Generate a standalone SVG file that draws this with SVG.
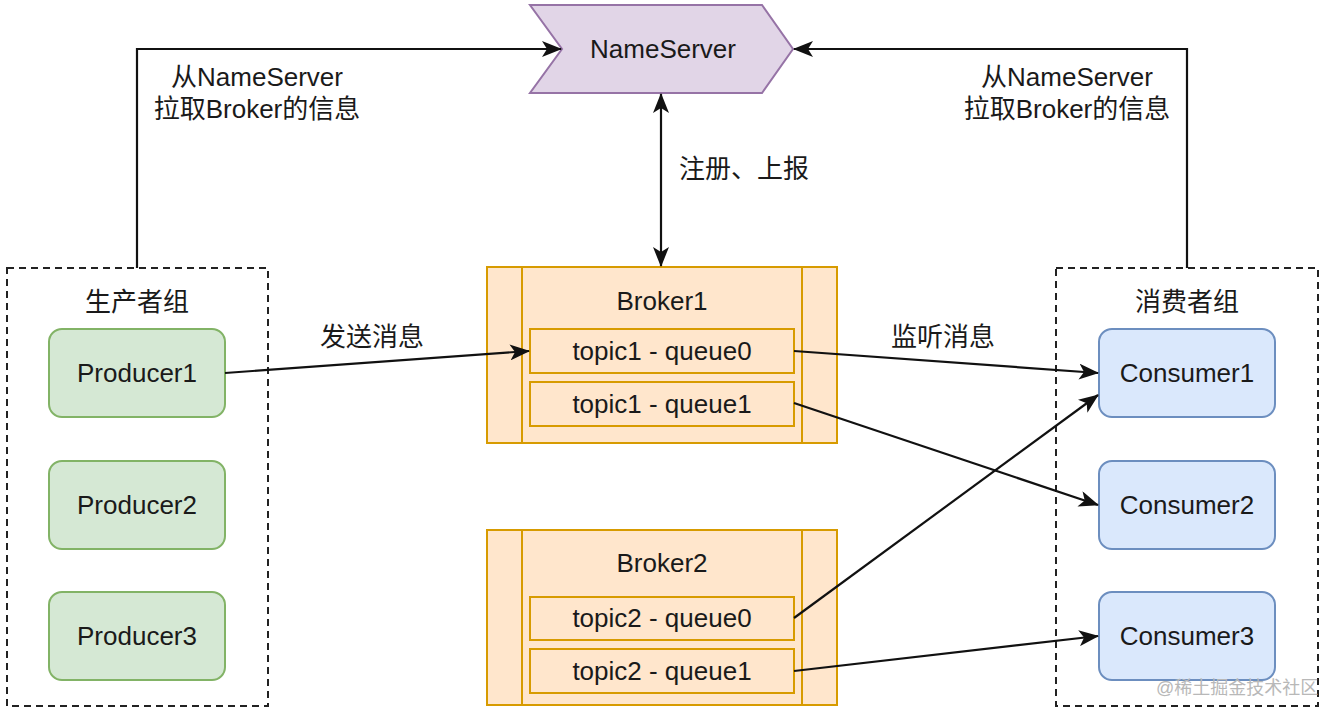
<svg xmlns="http://www.w3.org/2000/svg" width="1337" height="709" viewBox="0 0 1337 709">
<style>
text{font-family:"Liberation Sans","Noto Sans CJK SC",Arial,sans-serif;font-size:26px;fill:#1a1a1a;text-anchor:middle}
.grp{fill:none;stroke:#222;stroke-width:2;stroke-dasharray:7 5}
.prod{fill:#d5e8d4;stroke:#82b366;stroke-width:2}
.cons{fill:#dae8fc;stroke:#6c8ebf;stroke-width:2}
.brk{fill:#ffe6cc;stroke:#d79b00;stroke-width:2}
.ns{fill:#e1d5e7;stroke:#9673a6;stroke-width:2}
.edge{fill:none;stroke:#111;stroke-width:2.2}
.wm{font-size:18px;fill:#b8b8b8;text-anchor:start}
</style>
<defs>
<marker id="arr" markerUnits="userSpaceOnUse" markerWidth="20" markerHeight="16" viewBox="0 0 20 16" refX="19" refY="8" orient="auto-start-reverse">
<path d="M0,0 L20,8 L0,16 L5,8 Z" fill="#111"/>
</marker>
</defs>
<rect width="1337" height="709" fill="#ffffff"/>

<g id="producer-group">
<rect class="grp" x="7" y="268" width="261" height="438"/>
<text x="137" y="311">生产者组</text>
</g>
<g id="consumer-group">
<rect class="grp" x="1056" y="268" width="262" height="438"/>
<text x="1187" y="311">消费者组</text>
</g>

<g id="nameserver">
<polygon class="ns" points="530,5 762,5 793,49 762,93 530,93 562,49"/>
<text x="663" y="58">NameServer</text>
</g>

<g id="broker1">
<rect class="brk" x="487" y="267" width="350" height="176"/>
<line class="brk" x1="522" y1="267" x2="522" y2="443"/>
<line class="brk" x1="802" y1="267" x2="802" y2="443"/>
<text x="662" y="310">Broker1</text>
</g>
<g id="topic1-queue0">
<rect class="brk" x="530" y="329" width="264" height="44"/>
<text x="662" y="360">topic1 - queue0</text>
</g>
<g id="topic1-queue1">
<rect class="brk" x="530" y="382" width="264" height="44"/>
<text x="662" y="413">topic1 - queue1</text>
</g>

<g id="broker2">
<rect class="brk" x="487" y="530" width="350" height="175"/>
<line class="brk" x1="522" y1="530" x2="522" y2="705"/>
<line class="brk" x1="802" y1="530" x2="802" y2="705"/>
<text x="662" y="572">Broker2</text>
</g>
<g id="topic2-queue0">
<rect class="brk" x="530" y="597" width="264" height="43"/>
<text x="662" y="627">topic2 - queue0</text>
</g>
<g id="topic2-queue1">
<rect class="brk" x="530" y="649" width="264" height="44"/>
<text x="662" y="680">topic2 - queue1</text>
</g>

<g id="producer1">
<rect class="prod" x="49" y="329" width="176" height="88" rx="13"/>
<text x="137" y="382">Producer1</text>
</g>
<g id="producer2">
<rect class="prod" x="49" y="461" width="176" height="88" rx="13"/>
<text x="137" y="514">Producer2</text>
</g>
<g id="producer3">
<rect class="prod" x="49" y="592" width="176" height="88" rx="13"/>
<text x="137" y="645">Producer3</text>
</g>

<g id="consumer1">
<rect class="cons" x="1099" y="329" width="176" height="88" rx="13"/>
<text x="1187" y="382">Consumer1</text>
</g>
<g id="consumer2">
<rect class="cons" x="1099" y="461" width="176" height="88" rx="13"/>
<text x="1187" y="514">Consumer2</text>
</g>
<g id="consumer3">
<rect class="cons" x="1099" y="592" width="176" height="88" rx="13"/>
<text x="1187" y="645">Consumer3</text>
</g>

<g id="connectors">
<path class="edge" d="M137,268 L137,49 L561,49" marker-end="url(#arr)"/>
<path class="edge" d="M1187,268 L1187,49 L794,49" marker-end="url(#arr)"/>
<path class="edge" d="M661,94 L661,266" marker-start="url(#arr)" marker-end="url(#arr)"/>
<path class="edge" d="M225,373 L529,351" marker-end="url(#arr)"/>
<path class="edge" d="M794,351 L1098,373" marker-end="url(#arr)"/>
<path class="edge" d="M794,403 L1098,505" marker-end="url(#arr)"/>
<path class="edge" d="M794,618 L1098,395" marker-end="url(#arr)"/>
<path class="edge" d="M794,671 L1098,636" marker-end="url(#arr)"/>
<text x="257" y="86">从NameServer</text>
<text x="257" y="118">拉取Broker的信息</text>
<text x="1067" y="86">从NameServer</text>
<text x="1067" y="118">拉取Broker的信息</text>
<text x="744" y="178">注册、上报</text>
<text x="372" y="346">发送消息</text>
<text x="943" y="346">监听消息</text>
</g>

<text class="wm" x="1156" y="694">@稀土掘金技术社区</text>
</svg>
